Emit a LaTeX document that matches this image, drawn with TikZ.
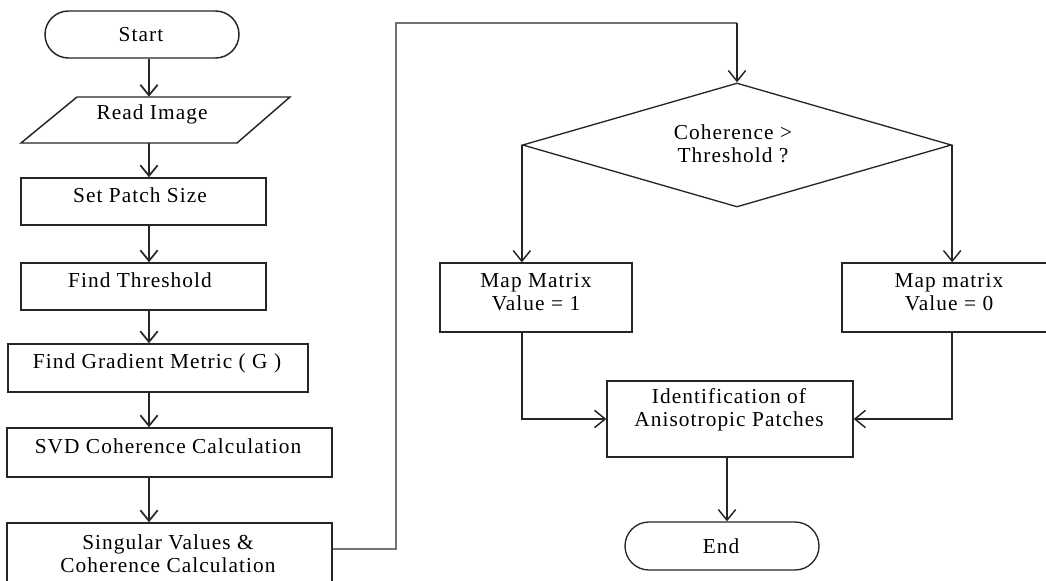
\documentclass[tikz,border=0pt]{standalone}
\usepackage{fontspec}
\setmainfont{Liberation Serif}[LetterSpace=5]
\usetikzlibrary{arrows.meta,shapes.geometric,shapes.misc,calc}
\newlength\pu
\setlength\pu{0.75pt}
\begin{document}
\begin{tikzpicture}[x=0.75pt,y=-0.75pt,
  box/.style={rectangle,draw=black!85,line width=1.1pt,inner sep=0pt},
  term/.style={rounded rectangle,draw=black!85,line width=1.1pt,inner sep=0pt},
  txt/.style={align=center,inner sep=0pt,text=black,font=\fontsize{16}{17.25}\selectfont},
  arr/.style={-{Straight Barb[length=8pt,width=13pt]},line width=1.3pt,draw=black!85},
  arrthin/.style={arr,line width=1.1pt},
  feed/.style={line width=1.4pt,draw=black!55}
]
% page
\fill[white] (0,0) rectangle (1046,581);
\useasboundingbox (0,0) rectangle (1046,581);

% left column guide
\coordinate (col) at (149,0);

% left column shapes
\node[term,minimum width=194*\pu,minimum height=47*\pu] (start) at (142,34.5) {};
\node[txt] (t-start) at (141,35) {Start};

\node[inner sep=0pt,minimum width=216*\pu,minimum height=46*\pu] (read) at (155.5,120) {};
\draw[draw=black!85,line width=1.1pt] (77,97) -- (290,97) -- (237,143) -- (21,143) -- cycle;
\node[txt] (t-read) at (152,114) {Read Image};

\node[box,minimum width=245*\pu,minimum height=47*\pu] (patch) at (143.5,201.5) {};
\node[txt] (t-patch) at (140,195) {Set Patch Size};

\node[box,minimum width=245*\pu,minimum height=47*\pu] (thresh) at (143.5,286.5) {};
\node[txt] (t-thresh) at (140,280) {Find Threshold};

\node[box,minimum width=300*\pu,minimum height=48*\pu] (grad) at (158,368) {};
\node[txt] (t-grad) at (157,363) {Find Gradient Metric ( G )};

\node[box,minimum width=325*\pu,minimum height=49*\pu] (svd) at (169.5,452.5) {};
\node[txt] (t-svd) at (168,446) {SVD Coherence Calculation};

\node[box,minimum width=325*\pu,minimum height=75*\pu] (sing) at (169.5,560.5) {};
\node[txt] (t-sing) at (168,553.5) {Singular Values \&\\Coherence Calculation};

% right part
\node[diamond,draw=black!85,line width=1pt,inner sep=0pt,shape aspect=3.46,
      minimum width=429*\pu,minimum height=124*\pu] (dec) at (737,145) {};
\node[txt] (t-dec) at (733,143.5) {Coherence >\\Threshold ?};

\node[box,line width=1pt,minimum width=192*\pu,minimum height=69*\pu] (map1) at (536,297.5) {};
\node[txt] (t-map1) at (536,292.5) {Map Matrix\\Value = 1};

\node[box,line width=1pt,minimum width=216*\pu,minimum height=69*\pu] (map0) at (950,297.5) {};
\node[txt] (t-map0) at (949,292.5) {Map matrix\\Value = 0};

\node[box,line width=1pt,minimum width=246*\pu,minimum height=76*\pu] (ident) at (730,419) {};
\node[txt] (t-ident) at (729,409.5) {Identification of\\Anisotropic Patches};

\node[term,line width=1pt,minimum width=194*\pu,minimum height=48*\pu] (end) at (722,546) {};
\node[txt] (t-end) at (721,546) {End};

\coordinate (c2) at (727,0);

% left column arrows
\draw[arr] (start.south -| col) -- (read.north -| col);
\draw[arr] (read.south -| col) -- (patch.north -| col);
\draw[arr] (patch.south -| col) -- (thresh.north -| col);
\draw[arr] (thresh.south -| col) -- (grad.north -| col);
\draw[arr] (grad.south -| col) -- (svd.north -| col);
\draw[arr] (svd.south -| col) -- (sing.north -| col);

% feed from the left column into the decision
\coordinate (k1) at (396,549);
\coordinate (k2) at ($(dec.north)+(0,-59)$);
\draw[feed] (sing.east |- k1) -- (k1) |- (k2);
\draw[arrthin] (k2) -- (dec.north);

% decision branches
\draw[arrthin] (dec.west) -- (dec.west |- map1.north);
\draw[arrthin] (dec.east) -- (dec.east |- map0.north);
\draw[arrthin] (map1.south -| dec.west) |- (ident.west);
\draw[arrthin] (map0.south -| dec.east) |- (ident.east);
\draw[arrthin] (ident.south -| c2) -- (end.north -| c2);
\end{tikzpicture}
\end{document}
